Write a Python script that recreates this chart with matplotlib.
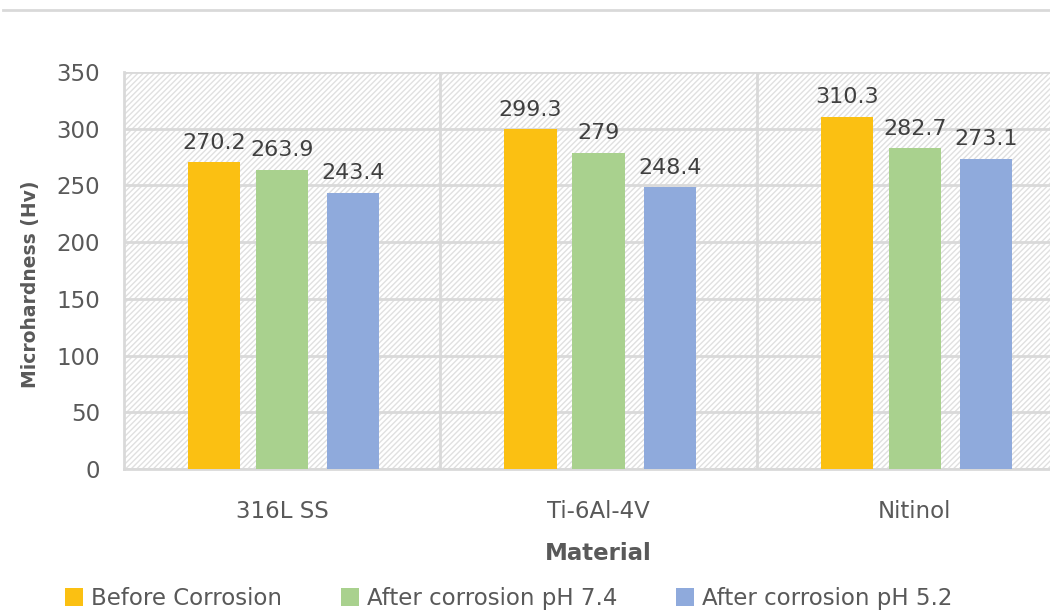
import numpy as np
import matplotlib.pyplot as plt
from matplotlib.lines import Line2D

materials = ['316L SS', 'Ti-6Al-4V', 'Nitinol']
before = [270.2, 299.3, 310.3]
after_74 = [263.9, 279, 282.7]
after_52 = [243.4, 248.4, 273.1]
series_names = ['Before Corrosion', 'After corrosion pH 7.4', 'After corrosion pH 5.2']
colors = ['#fbc012', '#a9d18e', '#8faadc']

plt.rcParams['font.family'] = ['DejaVu Sans']
plt.rcParams['hatch.color'] = '#e0e0e0'
plt.rcParams['hatch.linewidth'] = 1.0
txt = '#595959'
grid = '#d9d9d9'

fig = plt.figure(figsize=(10.5, 6.11), dpi=100)
ax = fig.add_axes([0.118, 0.2324, 0.904, 0.6498])

# hatched plot background
ax.patch.set_facecolor('white')
ax.patch.set_hatch('//////')
ax.patch.set_edgecolor('#e0e0e0')

x = np.arange(len(materials))
width = 0.165
offsets = [-0.215, 0.0, 0.225]
for vals, off, c, name in zip([before, after_74, after_52], offsets, colors, series_names):
    bars = ax.bar(x + off, vals, width, color=c, label=name, zorder=3)
    labels = [('%g' % v) for v in vals]
    ax.bar_label(bars, labels=labels, padding=7, fontsize=16, color='#404040')

ax.set_xlim(-0.5, 2.5)
ax.set_ylim(0, 350)
ax.set_yticks(range(0, 351, 50))
ax.yaxis.grid(True, color=grid, linewidth=2, zorder=1)
for b in [0.5, 1.5]:
    ax.axvline(b, color=grid, linewidth=2, zorder=1)
ax.set_axisbelow(True)

ax.set_xticks(x)
ax.set_xticklabels(materials)
ax.tick_params(axis='both', length=0, labelsize=16.5, colors=txt)
ax.tick_params(axis='x', pad=22)
ax.tick_params(axis='y', pad=17)
for s in ['top', 'right']:
    ax.spines[s].set_visible(False)
for s in ['left', 'bottom']:
    ax.spines[s].set_color(grid)
    ax.spines[s].set_linewidth(2)

ax.set_xlabel('Material', fontsize=16.5, color=txt, fontweight='bold', labelpad=14)
ax.set_ylabel('Microhardness (Hv)', fontsize=13.5, color=txt, fontweight='bold')
ax.yaxis.set_label_coords(-0.088, 0.465)

fig.legend(loc='lower left', bbox_to_anchor=(0.042, -0.032), ncol=3, frameon=False,
           fontsize=16.5, labelcolor=txt, handlelength=0.8, handleheight=0.8,
           handletextpad=0.35, columnspacing=2.55)

fig.add_artist(Line2D([0.003, 1.0], [0.984, 0.984], transform=fig.transFigure,
                      color=grid, linewidth=2))

fig.savefig('out.png', dpi=100)
